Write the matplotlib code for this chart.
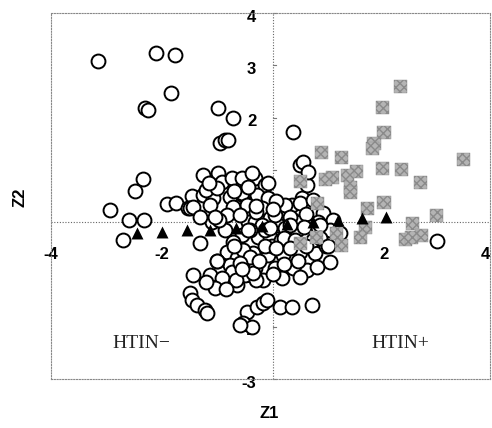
import matplotlib
matplotlib.use("Agg")
import matplotlib.pyplot as plt

# ---- data ----
circle_x = [-3.15, -2.11, -1.77, -1.84, -2.31, -2.25, -0.99, -0.72, -0.95, -0.86, -0.81,
            0.36, 0.49, 0.54, 2.95,
            -2.34, -2.49, -2.94, -2.59, -2.32, -2.70, -1.91, -1.75, -1.46, -1.53, -1.32, -1.50,
            -1.26, -0.99, -0.92, -0.74, -0.56, -0.32, -0.14, -0.38, -0.09,
            -1.26, -1.08, -0.77, -0.54, -0.29, -0.09, -0.56,
            -1.14, -0.72, -0.47, -0.20, -0.83, -0.05, -0.45, 0.16, 0.34, 0.52, 0.61, 0.49,
            0.72, 0.90, 1.08, 0.36, 0.67, 1.03, 1.21, 0.63,
            -0.56, -0.27, -0.05, 0.27, 0.58, -0.36, -0.09, 0.18, 0.49, 0.76, 0.13, 0.43, 0.72,
            -0.32, 0.04, 0.36, 0.61, 1.03, 0.79, -0.18, 0.16, 0.49, -0.50,
            -0.86, -0.72, -0.83, -0.65, -0.77, -0.74, -1.14, -1.44, -0.92, -0.65, -0.31, -0.67, -1.05,
            -1.50, -1.46, -1.37, -1.23, -1.19,
            -0.47, -0.29, -0.18, -0.54, -0.38, -0.59, -0.11, 0.13, 0.34, 0.70,
            -0.32, -0.20, 0.09, 0.22, 0.49, 0.81, -0.41, -0.14, 0.04, -0.59, -1.10,
            -1.44, -1.32, -0.54, -0.41, -0.36, -0.59, 0.22, -0.97, -1.20, -0.30, 0.05,
            0.30, 0.60, -0.02, -0.70, 0.95, -1.00, 0.15,
            0.30, 0.55, 0.85, -0.05, -0.45, 0.00, 0.20, 0.40, -0.15, 0.05, 0.30, 0.60,
            -0.25, 0.20, 0.45, -0.55, 0.00, -0.85, -1.20, -1.00, -1.05, -0.30, -0.70,
            -1.00, -1.15, -0.45, 0.85, 1.00]
circle_y = [3.08, 3.23, 3.19, 2.47, 2.18, 2.14, 2.18, 1.99, 1.51, 1.57, 1.57,
            1.72, 1.09, 1.15, -0.36,
            0.82, 0.59, 0.23, 0.04, 0.04, -0.34, 0.34, 0.36, 0.50, 0.27, -0.40, 0.27,
            0.90, 0.94, 0.76, 0.84, 0.84, 0.84, 0.71, 0.94, 0.75,
            0.52, 0.46, 0.48, 0.52, 0.52, 0.46, 0.55,
            0.33, 0.29, 0.33, 0.27, 0.13, 0.08, 0.00, 0.13, 0.33, 0.46, 0.71, 0.36,
            0.42, 0.17, 0.04, 0.04, -0.15, -0.15, -0.21, 0.96,
            -0.25, -0.29, -0.29, -0.25, -0.19, -0.59, -0.63, -0.63, -0.57, -0.59, -0.40, -0.15, -0.34,
            -0.88, -0.88, -0.88, -0.92, -0.76, -0.86, -1.11, -1.07, -1.05, -1.01,
            -0.15, -0.38, -0.57, -0.69, -0.82, -0.96, -1.01, -1.01, -1.07, -1.20, -1.11, -1.11, -1.26,
            -1.36, -1.49, -1.59, -1.68, -1.74,
            -1.72, -1.63, -1.55, -1.93, -2.01, -1.97, -1.49, -1.63, -1.63, -1.59,
            0.00, -0.06, -0.06, -0.11, 0.00, 0.00, -0.15, -0.15, 0.13, 0.13, 0.00,
            0.29, 0.10, -0.54, -0.67, -0.98, -0.78, 0.33, 0.05, 0.62, 0.20, 0.40,
            0.10, 0.15, -0.45, -0.45, -0.45, -0.75, -0.35,
            -0.05, -0.10, -0.05, -0.12, -0.15, 0.25, -0.30, -0.35, -0.45, -0.50, -0.50, -0.45,
            -0.75, -0.80, -0.75, -0.90, -1.00, -1.28, -1.15, -0.75, 0.10, 0.30, 0.60,
            0.65, 0.75, 0.68, -0.30, -0.45]

square_x = [2.29, 1.98, 2.00, 1.82, 1.80, 0.88, 1.23, 3.44, 1.98, 2.31, 1.51, 1.35, 1.08,
            0.95, 0.49, 2.65, 1.39, 1.39, 0.81, 1.71, 2.00, 2.95, 2.52, 2.68, 2.38, 2.50,
            1.66, 1.15, 0.79, 0.49, 1.57, 1.24]
square_y = [2.60, 2.20, 1.72, 1.51, 1.41, 1.34, 1.24, 1.19, 1.03, 1.01, 0.96, 0.90, 0.86,
            0.82, 0.78, 0.75, 0.67, 0.57, 0.36, 0.27, 0.38, 0.13, -0.02, -0.25, -0.34, -0.29,
            -0.10, -0.21, -0.29, -0.40, -0.29, -0.44]

triangle_x = [-2.45, -2.00, -1.55, -1.14, -0.67, -0.20, 0.25, 0.72, 1.17, 1.60, 2.04]
triangle_y = [-0.21, -0.19, -0.15, -0.15, -0.11, -0.08, -0.04, 0.00, 0.04, 0.08, 0.10]

xtick_vals = [-4, -2, 2, 4]
xtick_labels = ["-4", "-2", "2", "4"]
ytick_vals = [4, 3, 2, 1, -1, -2, -3]
ytick_labels = ["4", "3", "2", "1", "-1", "-2", "-3"]

group_labels = ["HTIN\u2212", "HTIN+"]
group_pos_x = [-2.38, 2.29]
group_pos_y = [-2.33, -2.33]

# ---- figure ----
fig = plt.figure(figsize=(4.92, 4.28), dpi=100)
ax = fig.add_axes([51 / 492, 49 / 428, 439 / 492, 366 / 428])
ax.set_xlim(-4.0, 3.91)
ax.set_ylim(-3.0, 4.0)
ax.set_xticks([])
ax.set_yticks([])
dot = (0, (1, 1.5))
for s in ax.spines.values():
    s.set_linestyle(dot)
    s.set_color("#888888")
    s.set_linewidth(0.8)

ax.axhline(0, color="#666666", lw=0.8, ls=dot, zorder=1)
ax.axvline(0, color="#666666", lw=0.8, ls=dot, zorder=1)

bold = dict(family="Liberation Sans", fontweight="bold", fontsize=12, color="black")
for v, t in zip(ytick_vals, ytick_labels):
    ax.text(-0.3, v - 0.08, t, ha="right", va="center", zorder=1.5, clip_on=False, **bold)
    ax.plot([0, 0.05], [v, v], color="#777777", lw=0.8, zorder=1.5, clip_on=False)
for v, t in zip(xtick_vals, xtick_labels):
    if v >= 4:
        ax.text(3.91, -0.61, t, ha="right", va="center", zorder=1.5, clip_on=False, **bold)
    else:
        ax.text(v, -0.61, t, ha="center", va="center", zorder=1.5, clip_on=False, **bold)

ax.scatter(circle_x, circle_y, s=100, facecolors="white", edgecolors="black",
           linewidths=1.4, zorder=2)
ax.scatter(square_x, square_y, s=88, marker="s", facecolors="#b4b4b4",
           edgecolors="#8a8a8a", linewidths=0.3, hatch="xxxx", zorder=3)
ax.scatter(triangle_x, triangle_y, s=74, marker="^", color="black", linewidths=0, zorder=4)

for t, gx, gy in zip(group_labels, group_pos_x, group_pos_y):
    ax.text(gx, gy, t, ha="center", va="center", family="Liberation Serif",
            fontsize=14, color="#222222", zorder=5)

fig.text(269 / 492, 1 - 414 / 428, "Z1", ha="center", va="center", **bold)
fig.text(20 / 492, 1 - 197 / 428, "Z2", ha="center", va="center", rotation=90, **bold)

fig.savefig("out.png", dpi=100)
